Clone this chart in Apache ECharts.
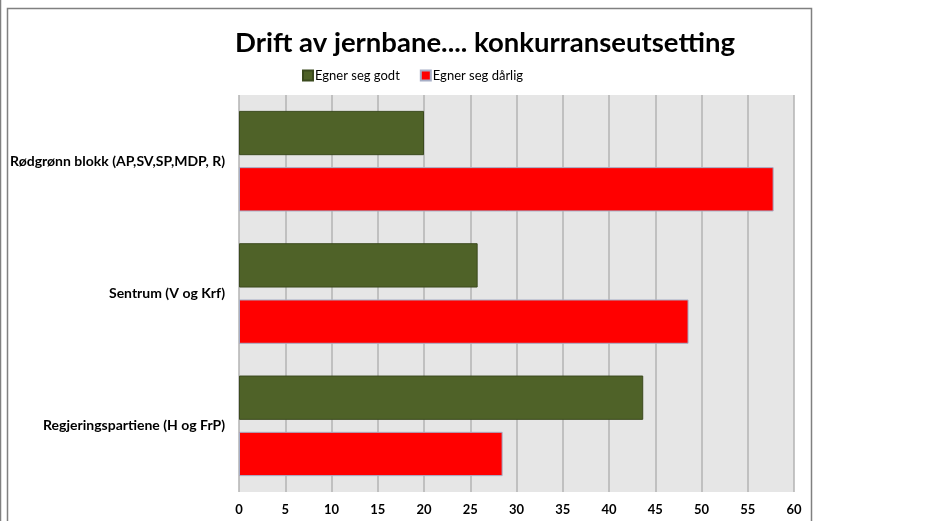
<!DOCTYPE html>
<html>
<head>
<meta charset="utf-8">
<script src="https://cdn.jsdelivr.net/npm/echarts@6/dist/echarts.min.js"></script>
<style>
  html, body { margin: 0; padding: 0; background: #fff; }
  #contain { width: 949px; height: 521px; }
</style>
</head>
<body>
<div id="contain"></div>
<script>
var categories = ['Rødgrønn blokk (AP,SV,SP,MDP, R)', 'Sentrum (V og Krf)', 'Regjeringspartiene (H og FrP)'];
var godt = [20, 25.8, 43.7];
var darlig = [57.8, 48.6, 28.5];
var seriesNames = ['Egner seg godt', 'Egner seg dårlig'];

var font = 'Lato, "Open Sans", sans-serif';
var myChart = echarts.init(document.getElementById('contain'));
myChart.setOption({
    backgroundColor: '#fff',
    animation: false,
    title: {
        text: 'Drift av jernbane.... konkurranseutsetting',
        left: 480,
        textAlign: 'center',
        top: 24,
        textStyle: { fontFamily: font, fontSize: 27.5, fontWeight: 'bold', color: '#000' }
    },
    legend: {
        top: 64,
        left: 297,
        itemWidth: 10,
        itemHeight: 10,
        itemGap: 20,
        icon: 'rect',
        textStyle: { fontFamily: font, fontSize: 13, color: '#000', padding: [0, 0, 0, -3] },
        data: seriesNames
    },
    graphic: [{
        type: 'rect',
        shape: { x: 7.5, y: 8.5, width: 804, height: 530 },
        style: { fill: 'none', stroke: '#808080', lineWidth: 1.5 },
        silent: true
    }, {
        type: 'line',
        shape: { x1: 0.5, y1: 0, x2: 0.5, y2: 521 },
        style: { stroke: '#808080', lineWidth: 1.5 },
        silent: true
    }],
    grid: {
        left: 239,
        right: 155,
        top: 95,
        bottom: 29,
        show: true,
        backgroundColor: '#e6e6e6',
        borderWidth: 0
    },
    xAxis: {
        type: 'value',
        min: 0,
        max: 60,
        interval: 5,
        axisLine: { show: false },
        axisTick: { show: false },
        splitLine: { show: true, lineStyle: { color: '#b3b3b3', width: 1.5 } },
        axisLabel: { fontFamily: font, fontSize: 13, fontWeight: 'bold', color: '#000', margin: 11 }
    },
    yAxis: {
        type: 'category',
        inverse: true,
        data: categories,
        axisLine: { show: false },
        axisTick: { show: false },
        axisLabel: { fontFamily: font, fontSize: 14, fontWeight: 'bold', color: '#000', margin: 14 }
    },
    series: [{
        name: seriesNames[0],
        type: 'bar',
        data: godt,
        barGap: '27%',
        barCategoryGap: '24%',
        itemStyle: { color: '#4f6228', borderColor: '#3b4a1e', borderWidth: 1 }
    }, {
        name: seriesNames[1],
        type: 'bar',
        data: darlig,
        itemStyle: { color: '#ff0000', borderColor: '#a6aec6', borderWidth: 1 }
    }]
});
</script>
</body>
</html>
